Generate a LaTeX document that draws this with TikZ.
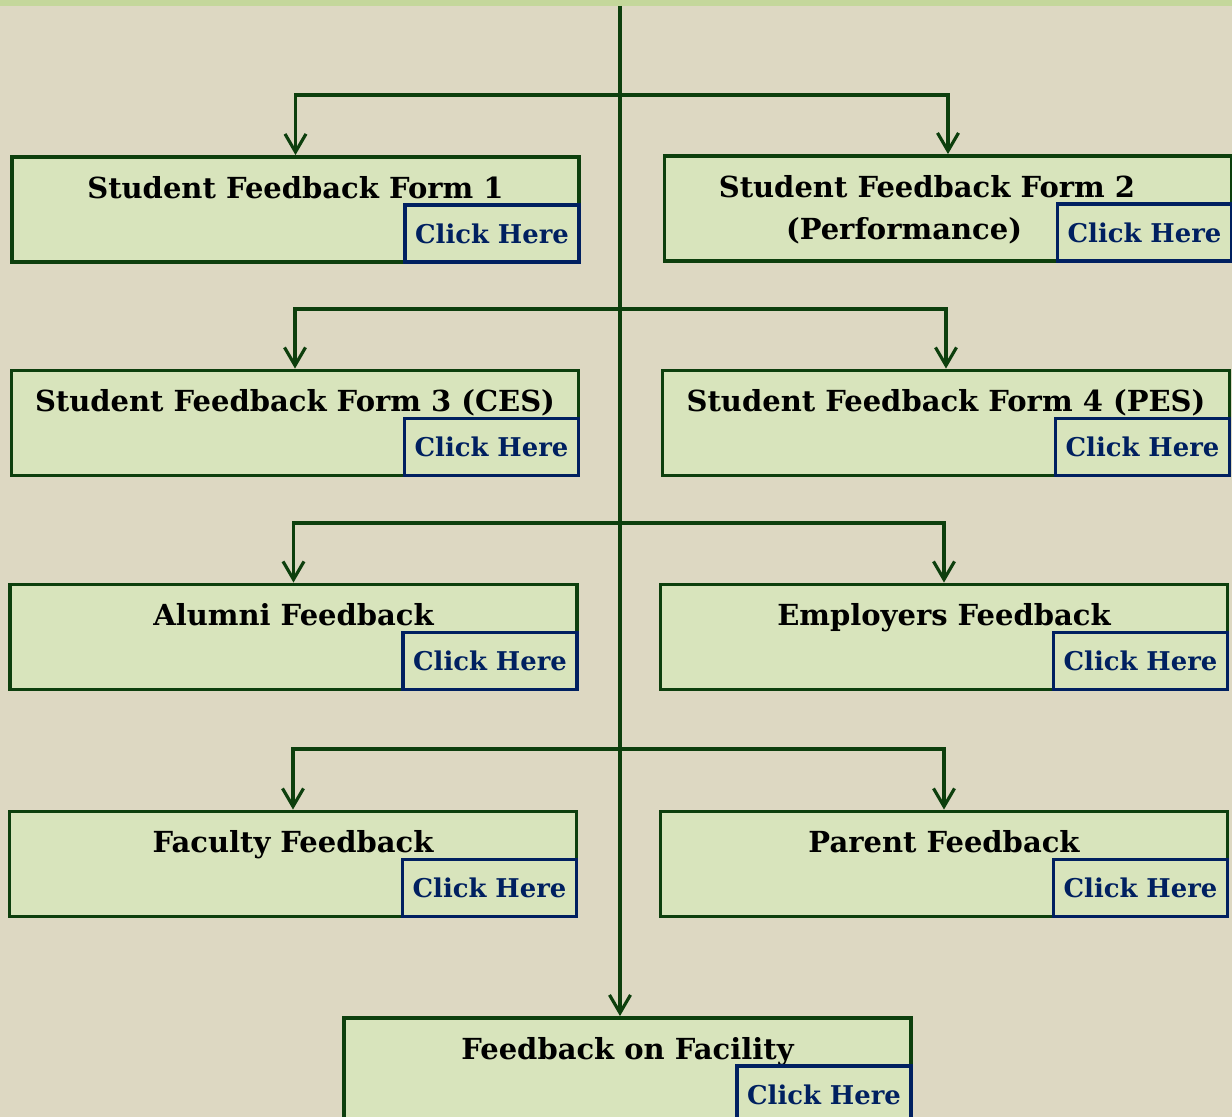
\documentclass[tikz,border=0pt]{standalone}
\usepackage{fontspec}
\setmainfont{DejaVu Serif}
\usetikzlibrary{positioning,arrows.meta}

\definecolor{bgsand}{HTML}{DDD8C2}
\definecolor{topband}{HTML}{C4D79B}
\definecolor{boxfill}{HTML}{D8E4BC}
\definecolor{linegreen}{HTML}{0D3F0D}
\definecolor{clicknavy}{HTML}{002060}

\begin{document}
\begin{tikzpicture}
        \tikzstyle{formbox}=[draw=linegreen, fill=boxfill, line width=2.2pt, minimum width=11.34cm, minimum height=2.1cm, inner sep=0pt]
        \tikzstyle{formtitle}=[anchor=base, inner sep=0pt, font=\bfseries\fontsize{16.5}{20}\selectfont]
        \tikzstyle{clickbox}=[draw=clicknavy, fill=boxfill, line width=2.2pt, minimum width=3.48cm, minimum height=1.14cm, anchor=south east, inner sep=0pt, text=clicknavy, font=\bfseries\fontsize{14.7}{17}\selectfont]
        \tikzstyle{down}=[draw=linegreen, line width=2.2pt, -{Straight Barb[length=0.36cm, width=0.42cm, line width=1.8pt]}]

        % page
        \fill[bgsand] (0,0) rectangle (24.64,22.34);
        \fill[topband] (0,22.22) rectangle (24.64,22.34);
        \useasboundingbox (0,0) rectangle (24.64,22.34);

        \coordinate (top)   at (12.4,22.22);
        \coordinate (fork1) at (12.4,20.44);
        \coordinate (fork2) at (12.4,16.16);
        \coordinate (fork3) at (12.4,11.88);
        \coordinate (fork4) at (12.4,7.36);

        % forms
        \node (sff1) [formbox] at (5.91,18.15) {};
        \node (sff1title) [formtitle] at ([yshift=-0.86cm]sff1.north) {Student Feedback Form 1};
        \node (sff1link) [clickbox] at (sff1.south east) {Click Here};

        \node (sff2) [formbox] at (18.96,18.17) {};
        \node (sff2title) [formtitle] at ([xshift=-0.42cm, yshift=-0.86cm]sff2.north) {Student Feedback Form 2};
        \node (sff2sub) [formtitle] at ([xshift=-0.88cm, yshift=-1.7cm]sff2.north) {(Performance)};
        \node (sff2link) [clickbox] at (sff2.south east) {Click Here};

        \node (sff3) [formbox] at (5.9,13.88) {};
        \node (sff3title) [formtitle] at ([yshift=-0.86cm]sff3.north) {Student Feedback Form 3 (CES)};
        \node (sff3link) [clickbox] at (sff3.south east) {Click Here};

        \node (sff4) [formbox] at (18.92,13.88) {};
        \node (sff4title) [formtitle] at ([yshift=-0.86cm]sff4.north) {Student Feedback Form 4 (PES)};
        \node (sff4link) [clickbox] at (sff4.south east) {Click Here};

        \node (alumni) [formbox] at (5.87,9.6) {};
        \node (alumnititle) [formtitle] at ([yshift=-0.86cm]alumni.north) {Alumni Feedback};
        \node (alumnilink) [clickbox] at (alumni.south east) {Click Here};

        \node (employer) [formbox] at (18.88,9.6) {};
        \node (employertitle) [formtitle] at ([yshift=-0.86cm]employer.north) {Employers Feedback};
        \node (employerlink) [clickbox] at (employer.south east) {Click Here};

        \node (faculty) [formbox] at (5.86,5.06) {};
        \node (facultytitle) [formtitle] at ([yshift=-0.86cm]faculty.north) {Faculty Feedback};
        \node (facultylink) [clickbox] at (faculty.south east) {Click Here};

        \node (parent) [formbox] at (18.88,5.06) {};
        \node (parenttitle) [formtitle] at ([yshift=-0.86cm]parent.north) {Parent Feedback};
        \node (parentlink) [clickbox] at (parent.south east) {Click Here};

        \node (facility) [formbox] at (12.55,0.93) {};
        \node (facilitytitle) [formtitle] at ([yshift=-0.86cm]facility.north) {Feedback on Facility};
        \node (facilitylink) [clickbox] at (facility.south east) {Click Here};

        % connectors
        \draw[down] (top) -- (top |- facility.north);
        \draw[down] (fork1) -| (sff1.north);
        \draw[down] (fork1) -| (sff2.north);
        \draw[down] (fork2) -| (sff3.north);
        \draw[down] (fork2) -| (sff4.north);
        \draw[down] (fork3) -| (alumni.north);
        \draw[down] (fork3) -| (employer.north);
        \draw[down] (fork4) -| (faculty.north);
        \draw[down] (fork4) -| (parent.north);
\end{tikzpicture}
\end{document}
